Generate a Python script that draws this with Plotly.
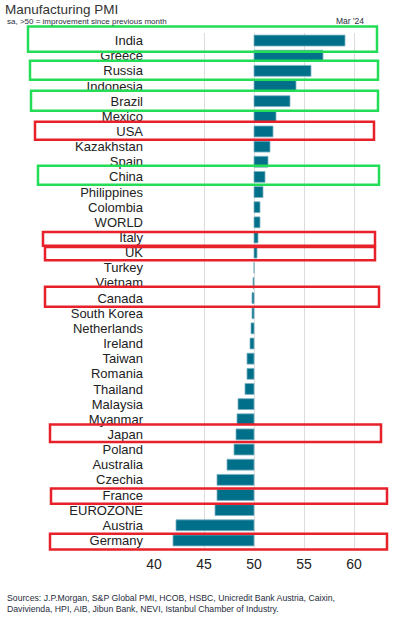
import plotly.graph_objects as go

countries = ["India", "Greece", "Russia", "Indonesia", "Brazil", "Mexico", "USA",
             "Kazakhstan", "Spain", "China", "Philippines", "Colombia", "WORLD",
             "Italy", "UK", "Turkey", "Vietnam", "Canada", "South Korea",
             "Netherlands", "Ireland", "Taiwan", "Romania", "Thailand", "Malaysia",
             "Myanmar", "Japan", "Poland", "Australia", "Czechia", "France",
             "EUROZONE", "Austria", "Germany"]
pmi = [59.1, 56.9, 55.7, 54.2, 53.6, 52.2, 51.9,
       51.6, 51.4, 51.1, 50.9, 50.6, 50.6,
       50.4, 50.3, 50.0, 49.9, 49.8, 49.8,
       49.7, 49.6, 49.3, 49.3, 49.1, 48.4,
       48.3, 48.2, 48.0, 47.3, 46.3, 46.3,
       46.1, 42.2, 41.9]
x_ticks = [40, 45, 50, 55, 60]
baseline = 50

# highlight boxes: (country, colour, left px, right px, top offset, bottom offset in rows)
GREEN = "#22DD55"
RED = "#E8202A"
boxes = [
    ("India", GREEN, 28, 377, -0.93, 0.73),
    ("Russia", GREEN, 30, 378, -0.67, 0.58),
    ("Brazil", GREEN, 31, 378, -0.69, 0.63),
    ("USA", RED, 35, 374, -0.64, 0.55),
    ("China", GREEN, 38, 379, -0.73, 0.52),
    ("Italy", RED, 43, 375, -0.36, 0.55),
    ("UK", RED, 45, 375, -0.37, 0.5),
    ("Canada", RED, 45, 379, -0.75, 0.58),
    ("Japan", RED, 50, 381, -0.66, 0.5),
    ("France", RED, 51, 387, -0.42, 0.58),
    ("Germany", RED, 50, 387, -0.44, 0.6),
]

W, H = 396, 620
ML, MR, MT, MB = 154, 9, 33, 72
PW = W - ML - MR
N = len(countries)

fig = go.Figure()
fig.add_trace(go.Bar(
    y=countries,
    x=[v - baseline for v in pmi],
    base=baseline,
    orientation="h",
    marker=dict(color="#006F89", line=dict(color="#7FB3C4", width=0.8)),
    hoverinfo="skip",
))


def row_to_paper(v):
    # y axis range is [N-0.5, -0.5] (reversed)
    return ((N - 0.5) - v) / N


shapes = []
for name, col, x0, x1, d0, d1 in boxes:
    i = countries.index(name)
    shapes.append(dict(
        type="rect", xref="paper", yref="paper",
        x0=(x0 - ML) / PW, x1=(x1 - ML) / PW,
        y0=row_to_paper(i + d0), y1=row_to_paper(i + d1),
        line=dict(color=col, width=2.5), fillcolor="rgba(0,0,0,0)",
        layer="above",
    ))


def px_x(p):
    return (p - ML) / PW


def px_y(p):
    return 1 - (p - MT) / (H - MT - MB)


annotations = [
    dict(text="Manufacturing PMI", x=px_x(3), y=px_y(9), xref="paper", yref="paper",
         xanchor="left", yanchor="middle", showarrow=False,
         font=dict(family="Liberation Sans, Arial", size=13.5, color="#333333")),
    dict(text="sa, >50 = improvement since previous month", x=px_x(5), y=px_y(21),
         xref="paper", yref="paper", xanchor="left", yanchor="middle", showarrow=False,
         font=dict(family="Liberation Sans, Arial", size=8, color="#1F2D3D")),
    dict(text="Mar '24", x=px_x(366), y=px_y(21), xref="paper", yref="paper",
         xanchor="right", yanchor="middle", showarrow=False,
         font=dict(family="Liberation Sans, Arial", size=8.5, color="#1F2D3D")),
    dict(text="Sources: J.P.Morgan, S&P Global PMI, HCOB, HSBC, Unicredit Bank Austria, Caixin,<br>"
              "Davivienda, HPI, AIB, Jibun Bank, NEVI, Istanbul Chamber of Industry.",
         x=px_x(5), y=px_y(603), xref="paper", yref="paper", xanchor="left", yanchor="middle",
         align="left", showarrow=False,
         font=dict(family="Liberation Sans, Arial", size=8.7, color="#1F2D3D")),
]

fig.update_layout(
    width=W, height=H,
    margin=dict(l=ML, r=MR, t=MT, b=MB, pad=0),
    plot_bgcolor="white", paper_bgcolor="white",
    showlegend=False, bargap=0.28,
    shapes=shapes, annotations=annotations,
    xaxis=dict(range=[40, 63.3], tickmode="array", tickvals=x_ticks,
               ticktext=[str(t) for t in x_ticks], automargin=False,
               showgrid=True, gridcolor="#DDDDDD", gridwidth=1, zeroline=False,
               showline=False, ticks="", ticklabelstandoff=6,
               tickfont=dict(family="Liberation Sans, Arial", size=14, color="#222222")),
    yaxis=dict(categoryorder="array", categoryarray=countries,
               range=[N - 0.5, -0.5], autorange=False,
               tickmode="array", tickvals=countries, ticktext=countries, automargin=False,
               showgrid=False, zeroline=False, showline=False, ticks="",
               ticklabelstandoff=10,
               tickfont=dict(family="Liberation Sans, Arial", size=13, color="#222222")),
)

fig.write_html("out.html", config={"displayModeBar": False},
               post_script="document.body.style.margin='0';document.body.style.overflow='hidden';")
